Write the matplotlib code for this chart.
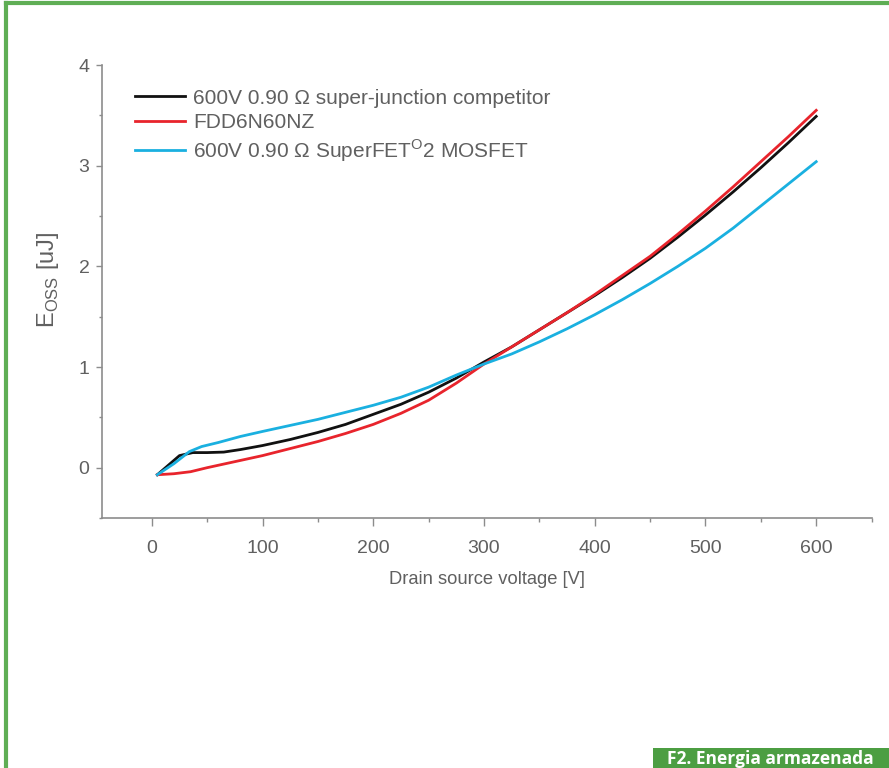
import numpy as np
import matplotlib
matplotlib.use("Agg")
import matplotlib.pyplot as plt
from matplotlib.patches import Rectangle
from matplotlib.ticker import MultipleLocator

plt.rcParams['font.family'] = ['Liberation Sans', 'DejaVu Sans']

# values (V, uJ)
v_black = [5, 25, 37, 50, 65, 80, 100, 125, 150, 175, 200, 225, 250, 275, 300,
           325, 350, 375, 400, 425, 450, 475, 500, 525, 550, 575, 600]
e_black = [-0.07, 0.12, 0.15, 0.15, 0.155, 0.18, 0.22, 0.28, 0.35, 0.43, 0.53, 0.63,
           0.75, 0.89, 1.05, 1.20, 1.37, 1.54, 1.71, 1.89, 2.08, 2.29, 2.51, 2.74,
           2.98, 3.23, 3.49]

v_red = [5, 20, 35, 50, 75, 100, 125, 150, 175, 200, 225, 250, 275, 300,
         325, 350, 375, 400, 425, 450, 475, 500, 525, 550, 575, 600]
e_red = [-0.07, -0.06, -0.04, 0.0, 0.06, 0.12, 0.19, 0.26, 0.34, 0.43, 0.54, 0.67,
         0.84, 1.03, 1.20, 1.37, 1.54, 1.72, 1.91, 2.10, 2.32, 2.55, 2.79, 3.04,
         3.29, 3.55]

v_blue = [5, 20, 34, 45, 60, 80, 100, 125, 150, 175, 200, 225, 250, 275, 300,
          325, 350, 375, 400, 425, 450, 475, 500, 525, 550, 575, 600]
e_blue = [-0.07, 0.04, 0.16, 0.21, 0.25, 0.31, 0.36, 0.42, 0.48, 0.55, 0.62, 0.70,
          0.80, 0.92, 1.03, 1.13, 1.25, 1.38, 1.52, 1.67, 1.83, 2.00, 2.18, 2.38,
          2.60, 2.82, 3.04]

labels = ["600V 0.90 \u03a9 super-junction competitor",
          "FDD6N60NZ",
          "600V 0.90 \u03a9 SuperFET$^\\mathregular{O}$2 MOSFET"]

grey = "#8c8c8c"
txt = "#606060"

fig = plt.figure(figsize=(8.89, 7.68), dpi=100)
ax = fig.add_axes([0.1147, 0.3255, 0.8657, 0.5898])

ax.plot(v_black, e_black, color="#111111", lw=2, label=labels[0])
ax.plot(v_red, e_red, color="#e8242c", lw=2, label=labels[1])
ax.plot(v_blue, e_blue, color="#1ab0e0", lw=2, label=labels[2])

ax.set_xlim(-45, 650)
ax.set_ylim(-0.5, 4)
ax.xaxis.set_major_locator(MultipleLocator(100))
ax.xaxis.set_minor_locator(MultipleLocator(50))
ax.yaxis.set_major_locator(MultipleLocator(1))
ax.yaxis.set_minor_locator(MultipleLocator(0.5))

for s in ["top", "right"]:
    ax.spines[s].set_visible(False)
for s in ["left", "bottom"]:
    ax.spines[s].set_color(grey)
    ax.spines[s].set_linewidth(1.2)

ax.tick_params(axis="both", which="both", colors=grey, labelcolor=txt, direction="out")
ax.tick_params(axis="x", which="major", length=6, width=1, pad=10, labelsize=14)
ax.tick_params(axis="x", which="minor", length=3, width=1)
ax.tick_params(axis="y", which="major", length=4, width=1, pad=5, labelsize=14)
ax.tick_params(axis="y", which="minor", length=2, width=1)

ax.set_xlabel("Drain source voltage [V]", fontsize=13.2, color=txt, labelpad=10)
ax.set_ylabel("E$_\\mathregular{OSS}$ [uJ]", fontsize=17, color=txt)
ax.yaxis.set_label_coords(-0.053, 0.525)

leg = ax.legend(loc="upper left", bbox_to_anchor=(0.043, 0.948), frameon=False,
                fontsize=15, handlelength=2.4, handletextpad=0.4, labelspacing=0.25,
                borderaxespad=0, borderpad=0)
for t in leg.get_texts():
    t.set_color(txt)

# green frame and caption tab
fig.add_artist(plt.Line2D([0.0062, 1.0], [0.9967, 0.9967], transform=fig.transFigure,
                          color="#5fae55", lw=3))
fig.add_artist(plt.Line2D([0.0062, 0.0062], [0.0, 0.9967], transform=fig.transFigure,
                          color="#5fae55", lw=3))
fig.add_artist(Rectangle((653 / 889, 0), 1 - 653 / 889, 20 / 768, transform=fig.transFigure,
                         color="#4c9e42", lw=0))
fig.text(667 / 889, 4 / 768, "F2. Energia armazenada", color="white", fontsize=12.5,
         fontweight="bold", family=["Open Sans", "DejaVu Sans"], va="baseline", ha="left")

fig.savefig("out.png", dpi=100)
